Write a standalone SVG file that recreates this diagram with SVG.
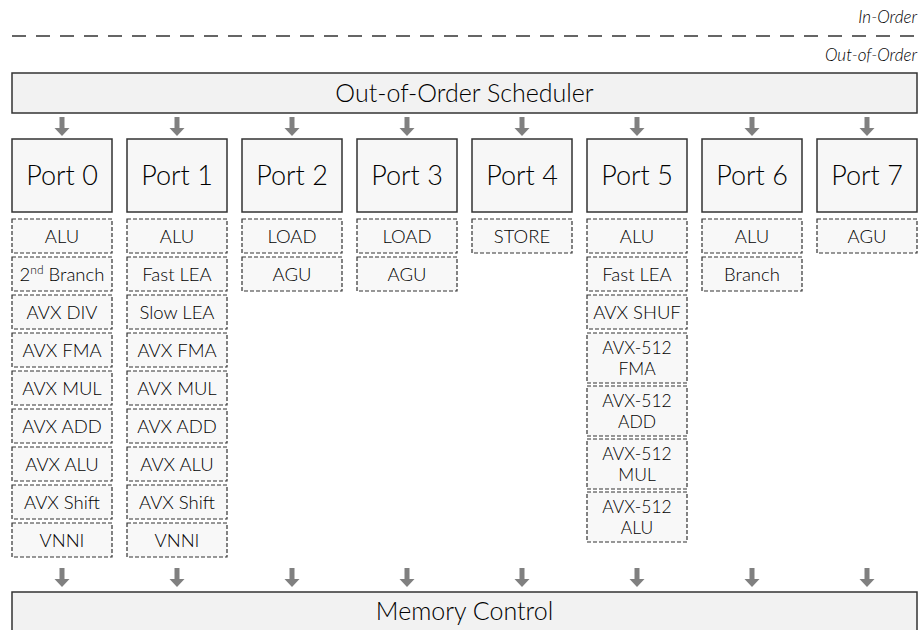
<svg xmlns="http://www.w3.org/2000/svg" width="921" height="630" viewBox="0 0 921 630">
<defs>
<style>
text{font-family:Lato,"Open Sans","Liberation Sans",sans-serif;font-weight:300;fill:#000;text-anchor:middle}
.big{fill:#f2f2f2;stroke:#333;stroke-width:1.5}
.port{fill:#f7f7f7;stroke:#333;stroke-width:1.5}
.unit{fill:#f8f8f8;stroke:#333;stroke-width:1.2;stroke-dasharray:4 2}
.pt{font-size:27px}
.ut{font-size:18.5px}
.u2{font-size:17.5px}
.bt{font-size:25px}
.lab{font-size:17px;font-style:italic;text-anchor:end}
.arr{fill:#808080}
</style>
<path id="arr" class="arr" d="M-2.5,0 h5 v11 h5 l-7.5,8 l-7.5,-8 h5 z"/>
</defs>
<g id="order-labels">
<text class="lab" x="917" y="23">In-Order</text>
<line x1="12" y1="36" x2="917" y2="36" stroke="#333" stroke-width="1.3" stroke-dasharray="14 10"/>
<text class="lab" x="917" y="61">Out-of-Order</text>
</g>
<g id="scheduler">
<rect class="big" x="12" y="73" width="905" height="40"/>
<text class="bt" x="464.5" y="102">Out-of-Order Scheduler</text>
</g>
<g id="connectors">
<use href="#arr" x="62" y="117"/><use href="#arr" x="177" y="117"/><use href="#arr" x="292" y="117"/><use href="#arr" x="407" y="117"/>
<use href="#arr" x="522" y="117"/><use href="#arr" x="637" y="117"/><use href="#arr" x="752" y="117"/><use href="#arr" x="867" y="117"/>
<use href="#arr" x="62" y="568"/><use href="#arr" x="177" y="568"/><use href="#arr" x="292" y="568"/><use href="#arr" x="407" y="568"/>
<use href="#arr" x="522" y="568"/><use href="#arr" x="637" y="568"/><use href="#arr" x="752" y="568"/><use href="#arr" x="867" y="568"/>
</g>
<g id="port0">
<rect class="port" x="12" y="139" width="100" height="73"/><text class="pt" x="62" y="185">Port 0</text>
<rect class="unit" x="12" y="219" width="100" height="34"/><text class="ut" x="62" y="243">ALU</text>
<rect class="unit" x="12" y="257" width="100" height="34"/><text class="ut" x="62" y="281">2<tspan font-size="12" dy="-7">nd</tspan><tspan dy="7"> Branch</tspan></text>
<rect class="unit" x="12" y="295" width="100" height="34"/><text class="ut" x="62" y="319">AVX DIV</text>
<rect class="unit" x="12" y="333" width="100" height="34"/><text class="ut" x="62" y="357">AVX FMA</text>
<rect class="unit" x="12" y="371" width="100" height="34"/><text class="ut" x="62" y="395">AVX MUL</text>
<rect class="unit" x="12" y="409" width="100" height="34"/><text class="ut" x="62" y="433">AVX ADD</text>
<rect class="unit" x="12" y="447" width="100" height="34"/><text class="ut" x="62" y="471">AVX ALU</text>
<rect class="unit" x="12" y="485" width="100" height="34"/><text class="ut" x="62" y="509">AVX Shift</text>
<rect class="unit" x="12" y="523" width="100" height="34"/><text class="ut" x="62" y="547">VNNI</text>
</g>
<g id="port1">
<rect class="port" x="127" y="139" width="100" height="73"/><text class="pt" x="177" y="185">Port 1</text>
<rect class="unit" x="127" y="219" width="100" height="34"/><text class="ut" x="177" y="243">ALU</text>
<rect class="unit" x="127" y="257" width="100" height="34"/><text class="ut" x="177" y="281">Fast LEA</text>
<rect class="unit" x="127" y="295" width="100" height="34"/><text class="ut" x="177" y="319">Slow LEA</text>
<rect class="unit" x="127" y="333" width="100" height="34"/><text class="ut" x="177" y="357">AVX FMA</text>
<rect class="unit" x="127" y="371" width="100" height="34"/><text class="ut" x="177" y="395">AVX MUL</text>
<rect class="unit" x="127" y="409" width="100" height="34"/><text class="ut" x="177" y="433">AVX ADD</text>
<rect class="unit" x="127" y="447" width="100" height="34"/><text class="ut" x="177" y="471">AVX ALU</text>
<rect class="unit" x="127" y="485" width="100" height="34"/><text class="ut" x="177" y="509">AVX Shift</text>
<rect class="unit" x="127" y="523" width="100" height="34"/><text class="ut" x="177" y="547">VNNI</text>
</g>
<g id="port2">
<rect class="port" x="242" y="139" width="100" height="73"/><text class="pt" x="292" y="185">Port 2</text>
<rect class="unit" x="242" y="219" width="100" height="34"/><text class="ut" x="292" y="243">LOAD</text>
<rect class="unit" x="242" y="257" width="100" height="34"/><text class="ut" x="292" y="281">AGU</text>
</g>
<g id="port3">
<rect class="port" x="357" y="139" width="100" height="73"/><text class="pt" x="407" y="185">Port 3</text>
<rect class="unit" x="357" y="219" width="100" height="34"/><text class="ut" x="407" y="243">LOAD</text>
<rect class="unit" x="357" y="257" width="100" height="34"/><text class="ut" x="407" y="281">AGU</text>
</g>
<g id="port4">
<rect class="port" x="472" y="139" width="100" height="73"/><text class="pt" x="522" y="185">Port 4</text>
<rect class="unit" x="472" y="219" width="100" height="34"/><text class="ut" x="522" y="243">STORE</text>
</g>
<g id="port5">
<rect class="port" x="587" y="139" width="100" height="73"/><text class="pt" x="637" y="185">Port 5</text>
<rect class="unit" x="587" y="219" width="100" height="34"/><text class="ut" x="637" y="243">ALU</text>
<rect class="unit" x="587" y="257" width="100" height="34"/><text class="ut" x="637" y="281">Fast LEA</text>
<rect class="unit" x="587" y="295" width="100" height="34"/><text class="ut" x="637" y="319">AVX SHUF</text>
<rect class="unit" x="587" y="333" width="100" height="50"/><text class="u2" x="637" y="354">AVX-512<tspan x="637" dy="20.5">FMA</tspan></text>
<rect class="unit" x="587" y="386" width="100" height="50"/><text class="u2" x="637" y="407">AVX-512<tspan x="637" dy="20.5">ADD</tspan></text>
<rect class="unit" x="587" y="439" width="100" height="50"/><text class="u2" x="637" y="460">AVX-512<tspan x="637" dy="20.5">MUL</tspan></text>
<rect class="unit" x="587" y="492" width="100" height="50"/><text class="u2" x="637" y="513">AVX-512<tspan x="637" dy="20.5">ALU</tspan></text>
</g>
<g id="port6">
<rect class="port" x="702" y="139" width="100" height="73"/><text class="pt" x="752" y="185">Port 6</text>
<rect class="unit" x="702" y="219" width="100" height="34"/><text class="ut" x="752" y="243">ALU</text>
<rect class="unit" x="702" y="257" width="100" height="34"/><text class="ut" x="752" y="281">Branch</text>
</g>
<g id="port7">
<rect class="port" x="817" y="139" width="100" height="73"/><text class="pt" x="867" y="185">Port 7</text>
<rect class="unit" x="817" y="219" width="100" height="34"/><text class="ut" x="867" y="243">AGU</text>
</g>
<g id="memory">
<rect class="big" x="12" y="592" width="905" height="45"/>
<text class="bt" x="464.5" y="620">Memory Control</text>
</g>
</svg>
